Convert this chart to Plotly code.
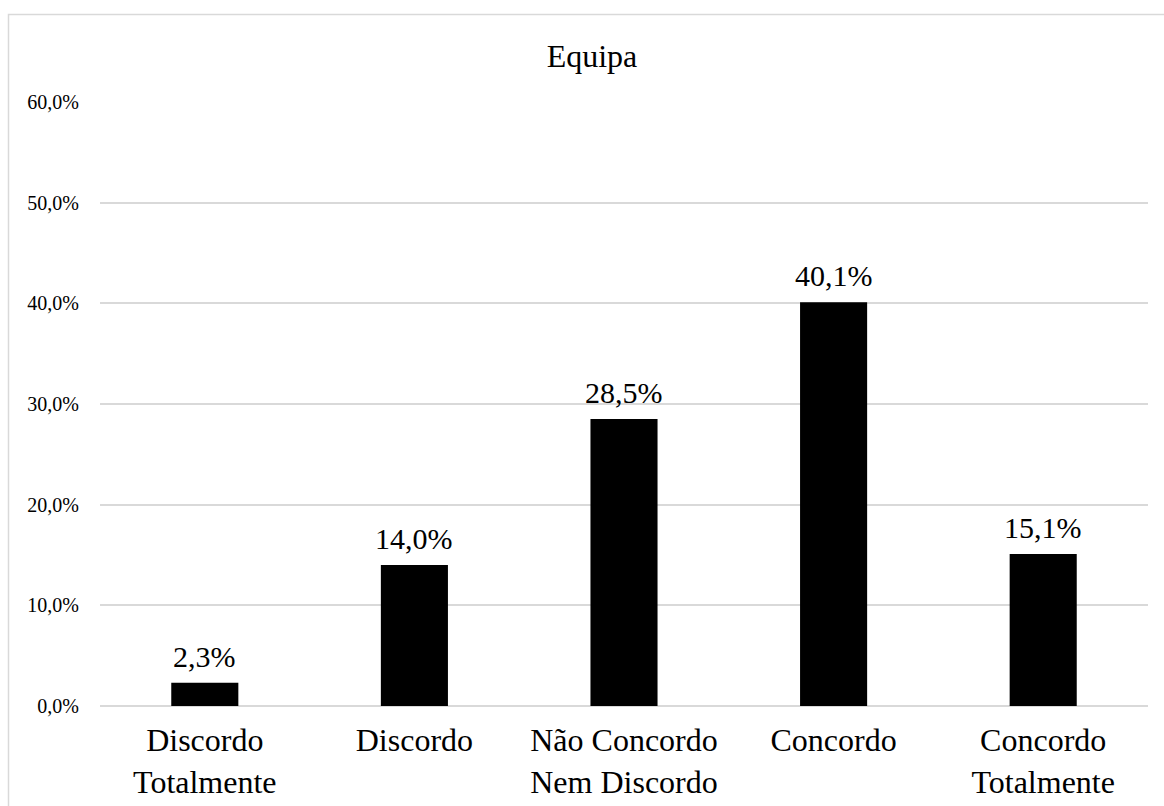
import plotly.graph_objects as go

categories = ["Discordo<br>Totalmente", "Discordo", "Não Concordo<br>Nem Discordo", "Concordo", "Concordo<br>Totalmente"]
values = [0.023, 0.140, 0.285, 0.401, 0.151]
title_text = "Equipa"

FONT = "Liberation Serif, Times New Roman, serif"

fig = go.Figure()
fig.add_trace(go.Bar(
    x=categories, y=values,
    marker=dict(color="black", line=dict(width=0)),
    hoverinfo="skip",
))

for c, v in zip(categories, values):
    fig.add_annotation(
        x=c, y=v, xref="x", yref="y",
        text=f"{v*100:.1f}%".replace(".", ","),
        showarrow=False, yanchor="bottom", yshift=8,
        font=dict(family=FONT, size=30, color="black"),
    )

L, R, T, B = 100, 16, 102, 100
W, H = 1164, 806
pw, ph = W - L - R, H - T - B

def px_to_paper_x(px):
    return (px - L) / pw

def px_to_paper_y(py):
    return (H - B - py) / ph

fig.add_shape(
    type="rect", xref="paper", yref="paper",
    x0=px_to_paper_x(8.5), x1=px_to_paper_x(1200),
    y0=px_to_paper_y(900), y1=px_to_paper_y(14.5),
    line=dict(color="#d9d9d9", width=1.5), fillcolor="rgba(0,0,0,0)", layer="below",
)

fig.update_layout(
    width=W, height=H,
    margin=dict(l=L, r=R, t=T, b=B, pad=0),
    paper_bgcolor="white", plot_bgcolor="white",
    separators=",.",
    bargap=0.68,
    showlegend=False,
    title=dict(text=title_text, x=592 / W, xanchor="center", y=1 - 56 / H, yanchor="middle",
               font=dict(family=FONT, size=32, color="black")),
    font=dict(family=FONT, color="black"),
)
fig.update_yaxes(
    range=[0, 0.6], dtick=0.1, tickformat=".1%", automargin=False,
    showgrid=True, gridcolor="#d9d9d9", gridwidth=1.5,
    zeroline=True, zerolinecolor="#d9d9d9", zerolinewidth=1.5,
    showline=False, ticks="", ticklabelstandoff=20,
    tickfont=dict(family=FONT, size=20, color="black"),
)
fig.update_xaxes(
    showline=False, ticks="", showgrid=False, ticklabelstandoff=12, automargin=False,
    tickfont=dict(family=FONT, size=32, color="black"),
)

fig.write_html("out.html")
